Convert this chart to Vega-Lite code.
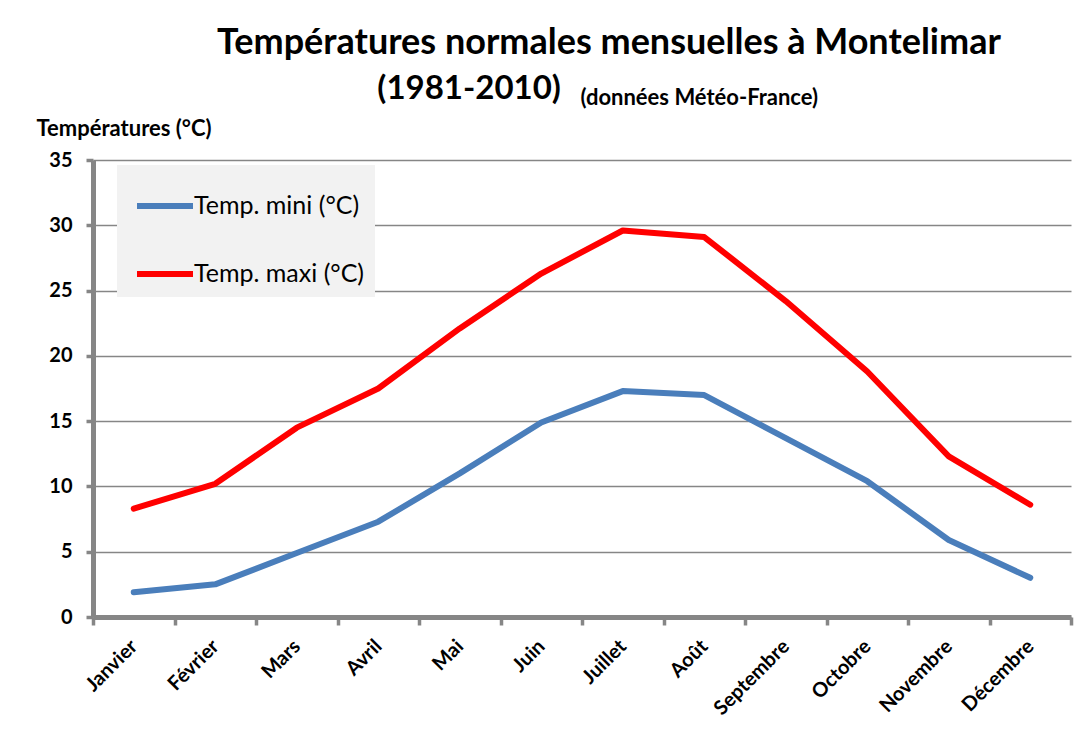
{
  "$schema": "https://vega.github.io/schema/vega-lite/v6.json",
  "width": 978,
  "height": 457,
  "autosize": {"type": "none"},
  "padding": {"left": 93, "top": 160, "right": 19, "bottom": 134},
  "background": "white",
  "title": {
    "text": "Températures normales mensuelles à Montelimar",
    "subtitle": "\u2800\u00a0\u00a0\u00a0\u00a0\u00a0\u00a0\u00a0\u00a0\u00a0\u00a0\u00a0\u00a0\u00a0\u00a0\u00a0\u00a0\u00a0(1981-2010)",
    "frame": "group",
    "anchor": "start",
    "align": "left",
    "dx": 124,
    "dy": 25,
    "font": "Lato",
    "fontSize": 36,
    "fontWeight": "bold",
    "color": "black",
    "subtitleFont": "Lato",
    "subtitleFontSize": 33,
    "subtitleFontWeight": "bold",
    "subtitleColor": "black",
    "subtitlePadding": 11
  },
  "data": {
    "values": [
      {"mois": "Janvier", "serie": "Temp. mini (°C)", "temp": 1.9},
      {"mois": "Février", "serie": "Temp. mini (°C)", "temp": 2.5},
      {"mois": "Mars", "serie": "Temp. mini (°C)", "temp": 4.9},
      {"mois": "Avril", "serie": "Temp. mini (°C)", "temp": 7.3},
      {"mois": "Mai", "serie": "Temp. mini (°C)", "temp": 11.0},
      {"mois": "Juin", "serie": "Temp. mini (°C)", "temp": 14.9},
      {"mois": "Juillet", "serie": "Temp. mini (°C)", "temp": 17.3},
      {"mois": "Août", "serie": "Temp. mini (°C)", "temp": 17.0},
      {"mois": "Septembre", "serie": "Temp. mini (°C)", "temp": 13.7},
      {"mois": "Octobre", "serie": "Temp. mini (°C)", "temp": 10.4},
      {"mois": "Novembre", "serie": "Temp. mini (°C)", "temp": 5.9},
      {"mois": "Décembre", "serie": "Temp. mini (°C)", "temp": 3.0},
      {"mois": "Janvier", "serie": "Temp. maxi (°C)", "temp": 8.3},
      {"mois": "Février", "serie": "Temp. maxi (°C)", "temp": 10.2},
      {"mois": "Mars", "serie": "Temp. maxi (°C)", "temp": 14.5},
      {"mois": "Avril", "serie": "Temp. maxi (°C)", "temp": 17.5},
      {"mois": "Mai", "serie": "Temp. maxi (°C)", "temp": 22.1},
      {"mois": "Juin", "serie": "Temp. maxi (°C)", "temp": 26.3},
      {"mois": "Juillet", "serie": "Temp. maxi (°C)", "temp": 29.6},
      {"mois": "Août", "serie": "Temp. maxi (°C)", "temp": 29.1},
      {"mois": "Septembre", "serie": "Temp. maxi (°C)", "temp": 24.2},
      {"mois": "Octobre", "serie": "Temp. maxi (°C)", "temp": 18.8},
      {"mois": "Novembre", "serie": "Temp. maxi (°C)", "temp": 12.3},
      {"mois": "Décembre", "serie": "Temp. maxi (°C)", "temp": 8.6}
    ]
  },
  "mark": {"type": "line", "strokeWidth": 6, "strokeCap": "round", "strokeJoin": "round"},
  "encoding": {
    "x": {
      "field": "mois",
      "type": "nominal",
      "sort": ["Janvier", "Février", "Mars", "Avril", "Mai", "Juin", "Juillet", "Août", "Septembre", "Octobre", "Novembre", "Décembre"],
      "scale": {"type": "band", "paddingInner": 0, "paddingOuter": 0},
      "bandPosition": 0.5,
      "axis": {
        "title": "(données Météo-France)",
        "titleX": 487,
        "titleY": -520,
        "titleAlign": "left",
        "titleBaseline": "middle",
        "titleFont": "Lato",
        "titleFontSize": 22,
        "titleFontWeight": "bold",
        "titleColor": "black",
        "labelAngle": -45,
        "labelAlign": "right",
        "labelBaseline": "middle",
        "labelFont": "Lato",
        "labelFontSize": 20,
        "labelFontWeight": "bold",
        "labelColor": "black",
        "labelPadding": 18,
        "domainColor": "#868686",
        "domainWidth": 5,
        "tickColor": "#868686",
        "tickWidth": 3.5,
        "tickSize": 8,
        "tickBand": "extent",
        "grid": false
      }
    },
    "y": {
      "field": "temp",
      "type": "quantitative",
      "scale": {"domain": [0, 35], "nice": false},
      "axis": {
        "title": "Températures (°C)",
        "titleAngle": 0,
        "titleX": -57,
        "titleY": -32,
        "titleAlign": "left",
        "titleBaseline": "middle",
        "titleFont": "Lato",
        "titleFontSize": 22,
        "titleFontWeight": "bold",
        "titleColor": "black",
        "values": [0, 5, 10, 15, 20, 25, 30, 35],
        "labelFont": "Lato",
        "labelFontSize": 20,
        "labelFontWeight": "bold",
        "labelColor": "black",
        "labelPadding": 14,
        "domainColor": "#868686",
        "domainWidth": 5,
        "tickColor": "#868686",
        "tickWidth": 3.5,
        "tickSize": 7,
        "grid": true,
        "gridColor": "#868686",
        "gridWidth": 1.3
      }
    },
    "color": {
      "field": "serie",
      "type": "nominal",
      "sort": ["Temp. mini (°C)", "Temp. maxi (°C)"],
      "scale": {"domain": ["Temp. mini (°C)", "Temp. maxi (°C)"], "range": ["#4a7ebb", "#ff0000"]},
      "legend": {
        "title": null,
        "orient": "none",
        "legendX": 24,
        "legendY": 5,
        "fillColor": "#f2f2f2",
        "padding": 10,
        "symbolType": "stroke",
        "symbolSize": 3136,
        "symbolStrokeWidth": 6,
        "symbolOffset": 7,
        "labelFont": "Lato",
        "labelFontSize": 25,
        "labelColor": "black",
        "labelOffset": -2,
        "labelLimit": 400,
        "rowPadding": 24
      }
    }
  },
  "config": {"view": {"stroke": null}}
}
